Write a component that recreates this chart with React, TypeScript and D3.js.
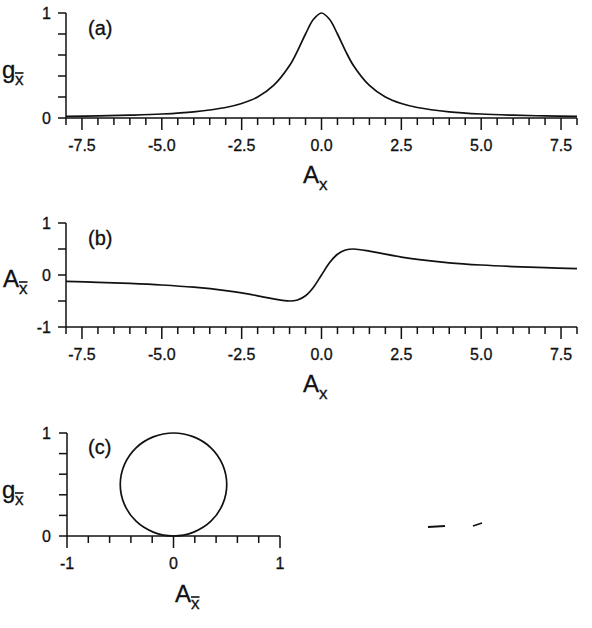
import React from "react";
import * as d3 from "d3";

// sample positions along A_x and the two response curves read at them
const xSamples = [-8, -7, -6, -5, -4, -3, -2.5, -2, -1.5, -1, -0.75, -0.5, -0.25, 0, 0.25, 0.5, 0.75, 1, 1.5, 2, 2.5, 3, 4, 5, 6, 7, 8];
const gValues = [0.016, 0.02, 0.027, 0.038, 0.059, 0.1, 0.138, 0.2, 0.31, 0.5, 0.64, 0.8, 0.94, 1, 0.94, 0.8, 0.64, 0.5, 0.31, 0.2, 0.138, 0.1, 0.059, 0.038, 0.027, 0.02, 0.016];
const aValues = [-0.123, -0.14, -0.162, -0.192, -0.235, -0.3, -0.345, -0.4, -0.46, -0.5, -0.48, -0.4, -0.235, 0, 0.235, 0.4, 0.48, 0.5, 0.46, 0.4, 0.345, 0.3, 0.235, 0.192, 0.162, 0.14, 0.123];

// the closed g vs A locus, traced point by point
const locusA = [0, 0.19, 0.354, 0.462, 0.5, 0.462, 0.354, 0.19, 0, -0.19, -0.354, -0.462, -0.5, -0.462, -0.354, -0.19];
const locusG = [0, 0.038, 0.146, 0.309, 0.5, 0.691, 0.854, 0.962, 1, 0.962, 0.854, 0.691, 0.5, 0.309, 0.146, 0.038];

// ticks
const xTicksAB = d3.range(-8, 8.001, 0.5);
const xLabelsAB = [-7.5, -5, -2.5, 0, 2.5, 5, 7.5];
const yTicksA = [0, 0.2, 0.4, 0.6, 0.8, 1];
const yLabelsA = [0, 1];
const yTicksB = [-1, -0.5, 0, 0.5, 1];
const yLabelsB = [-1, 0, 1];
const xTicksC = [-1, -0.8, -0.6, -0.4, -0.2, 0, 0.2, 0.4, 0.6, 0.8, 1];
const xLabelsC = [-1, 0, 1];
const yTicksC = [0, 0.2, 0.4, 0.6, 0.8, 1];
const yLabelsC = [0, 1];

const FONT = "'Liberation Sans', Arial, Helvetica, sans-serif";
const INK = "#111";

type Scale = d3.ScaleLinear<number, number>;

function Axes({
  x, y, xTicks, xLabels, yTicks, yLabels, fmtX,
}: {
  x: Scale; y: Scale; xTicks: number[]; xLabels: number[]; yTicks: number[]; yLabels: number[];
  fmtX: (v: number) => string;
}) {
  const [x0, x1] = x.range();
  const [yb, yt] = y.range();
  const isLabel = (arr: number[], v: number) => arr.some((l) => Math.abs(l - v) < 1e-9);
  return (
    <g stroke={INK} strokeWidth={1.5} fill="none">
      <line x1={x0} x2={x1} y1={yb} y2={yb} />
      <line x1={x0} x2={x0} y1={yb} y2={yt} />
      {xTicks.map((t) => (
        <line key={"xt" + t} x1={x(t)} x2={x(t)} y1={yb} y2={yb + (isLabel(xLabels, t) ? 12 : 7)} />
      ))}
      {yTicks.map((t) => (
        <line key={"yt" + t} x1={x0} x2={x0 - 8} y1={y(t)} y2={y(t)} />
      ))}
      <g fill={INK} stroke={INK} strokeWidth={0.3} fontFamily={FONT} fontSize={16}>
        {xLabels.map((t) => (
          <text key={"xl" + t} x={x(t)} y={yb + 33} textAnchor="middle">{fmtX(t)}</text>
        ))}
        {yLabels.map((t) => (
          <text key={"yl" + t} x={51} y={y(t) + 5.5} textAnchor="end">{String(t)}</text>
        ))}
      </g>
    </g>
  );
}

// main symbol with a subscript x, optionally barred
function Sym({ ch, x, y, bar }: { ch: string; x: number; y: number; bar: boolean }) {
  const sx = ch === "A" ? x + 16 : x + 13;
  return (
    <g fill={INK} stroke={INK} strokeWidth={0.3} fontFamily={FONT}>
      <text x={x} y={y} fontSize={24}>{ch}</text>
      <text x={sx} y={y + 7} fontSize={17}>x</text>
      {bar && <line x1={sx} x2={sx + 8.5} y1={y - 5} y2={y - 5} strokeWidth={1.6} />}
    </g>
  );
}

export default function App() {
  const xAB = d3.scaleLinear().domain([-8, 8]).range([66, 577]);
  const yA = d3.scaleLinear().domain([0, 1]).range([118, 13]);
  const yB = d3.scaleLinear().domain([-1, 1]).range([327, 223]);
  const xC = d3.scaleLinear().domain([-1, 1]).range([67, 280]);
  const yC = d3.scaleLinear().domain([0, 1]).range([536, 433]);

  const idx = d3.range(xSamples.length);
  const idxC = d3.range(locusA.length);
  const lineA = d3.line<number>().x((i) => xAB(xSamples[i])).y((i) => yA(gValues[i])).curve(d3.curveCatmullRom.alpha(0.5));
  const lineB = d3.line<number>().x((i) => xAB(xSamples[i])).y((i) => yB(aValues[i])).curve(d3.curveCatmullRom.alpha(0.5));
  const lineC = d3.line<number>().x((i) => xC(locusA[i])).y((i) => yC(locusG[i])).curve(d3.curveCatmullRomClosed.alpha(0.5));

  const fmt1 = (v: number) => v.toFixed(1);
  const fmt0 = (v: number) => String(v);

  return (
    <svg width={592} height={628} style={{ position: "absolute", left: 0, top: 0, background: "#fff" }}>
      <rect width={592} height={628} fill="#fff" />

      {/* (a) */}
      <Axes x={xAB} y={yA} xTicks={xTicksAB} xLabels={xLabelsAB} yTicks={yTicksA} yLabels={yLabelsA} fmtX={fmt1} />
      <path d={lineA(idx) ?? ""} fill="none" stroke={INK} strokeWidth={1.7} />
      <text x={88} y={35} fontFamily={FONT} fontSize={20} fill={INK} stroke={INK} strokeWidth={0.3}>(a)</text>
      <Sym ch="g" x={2} y={78} bar />
      <Sym ch="A" x={303} y={183} bar={false} />

      {/* (b) */}
      <Axes x={xAB} y={yB} xTicks={xTicksAB} xLabels={xLabelsAB} yTicks={yTicksB} yLabels={yLabelsB} fmtX={fmt1} />
      <path d={lineB(idx) ?? ""} fill="none" stroke={INK} strokeWidth={1.7} />
      <text x={88} y={245} fontFamily={FONT} fontSize={20} fill={INK} stroke={INK} strokeWidth={0.3}>(b)</text>
      <Sym ch="A" x={3} y={287} bar />
      <Sym ch="A" x={303} y={392} bar={false} />

      {/* (c) */}
      <Axes x={xC} y={yC} xTicks={xTicksC} xLabels={xLabelsC} yTicks={yTicksC} yLabels={yLabelsC} fmtX={fmt0} />
      <path d={lineC(idxC) ?? ""} fill="none" stroke={INK} strokeWidth={1.7} />
      <text x={88} y={454} fontFamily={FONT} fontSize={20} fill={INK} stroke={INK} strokeWidth={0.3}>(c)</text>
      <Sym ch="g" x={2} y={498} bar />
      <Sym ch="A" x={175} y={602} bar />

      {/* stray specks */}
      <path d="M428,527 L445,526" stroke={INK} strokeWidth={2} />
      <path d="M473,526 L482,523" stroke={INK} strokeWidth={1.5} />
    </svg>
  );
}
